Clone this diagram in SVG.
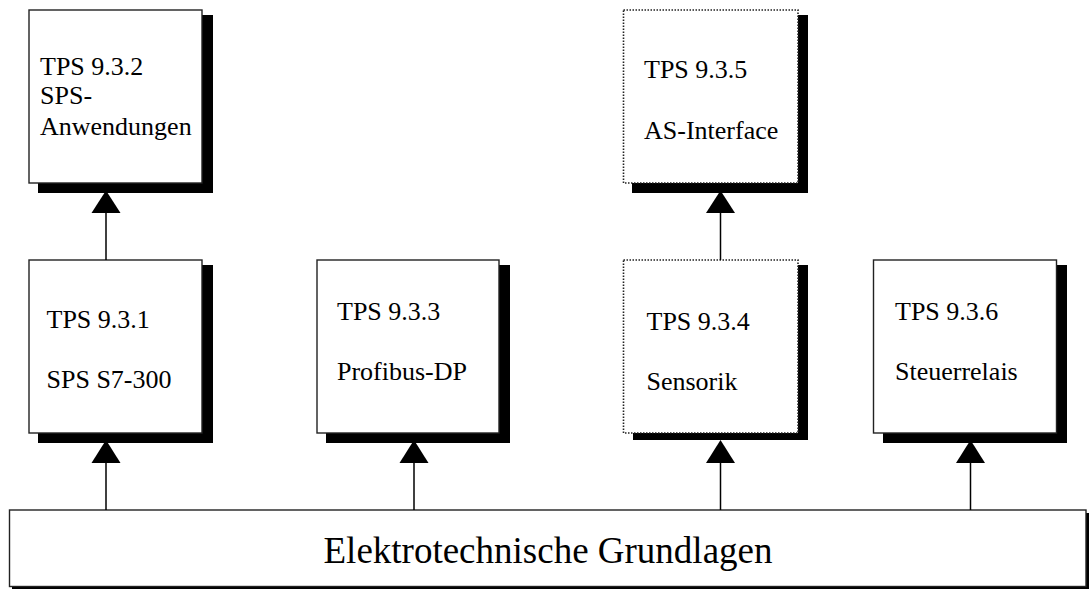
<svg xmlns="http://www.w3.org/2000/svg" width="1090" height="590" viewBox="0 0 1090 590">
<style>
.box{fill:#fff;stroke:#222;stroke-width:1.4}
.dot{fill:#fff;stroke:#222;stroke-width:1.6;stroke-dasharray:1.5 1.5}
.sh{fill:#000}
.t{font-family:"Liberation Serif","Times New Roman",serif;font-size:26px;fill:#000}
.big{font-size:37px}
.ln{stroke:#000;stroke-width:1.5;fill:none}
.ah{fill:#000}
</style>
<rect width="1090" height="590" fill="#fff"/>
<g id="n932">
<rect class="sh" x="38" y="15" width="175" height="178"/>
<rect class="box" x="29" y="10" width="173" height="173"/>
<text class="t" x="40" y="75">TPS 9.3.2</text>
<text class="t" x="40" y="104">SPS-</text>
<text class="t" x="40" y="135">Anwendungen</text>
</g>
<g id="n935">
<rect class="sh" x="632" y="15" width="176" height="178"/>
<rect class="dot" x="623.5" y="10" width="174.5" height="173"/>
<text class="t" x="644" y="78">TPS 9.3.5</text>
<text class="t" x="644" y="139">AS-Interface</text>
</g>
<g id="n931">
<rect class="sh" x="38" y="265" width="175" height="178"/>
<rect class="box" x="29" y="260" width="173" height="173"/>
<text class="t" x="46.5" y="328">TPS 9.3.1</text>
<text class="t" x="46.5" y="388">SPS S7-300</text>
</g>
<g id="n933">
<rect class="sh" x="326" y="265" width="184" height="178"/>
<rect class="box" x="317" y="260" width="182" height="173"/>
<text class="t" x="337" y="320">TPS 9.3.3</text>
<text class="t" x="337" y="380">Profibus-DP</text>
</g>
<g id="n934">
<rect class="sh" x="633" y="265" width="175" height="175"/>
<rect class="dot" x="623.5" y="260" width="174.5" height="173"/>
<text class="t" x="646.5" y="330">TPS 9.3.4</text>
<text class="t" x="646.5" y="390">Sensorik</text>
</g>
<g id="n936">
<rect class="sh" x="883" y="265" width="184" height="178"/>
<rect class="box" x="873.5" y="260" width="183" height="173"/>
<text class="t" x="895" y="320">TPS 9.3.6</text>
<text class="t" x="895" y="380">Steuerrelais</text>
</g>
<g id="base">
<rect class="sh" x="12" y="513" width="1077" height="76"/>
<rect class="box" x="9.5" y="510" width="1076.5" height="76.5"/>
<text class="t big" x="548" y="563" text-anchor="middle">Elektrotechnische Grundlagen</text>
</g>
<g id="connectors">
<line class="ln" x1="106" y1="260" x2="106" y2="212"/>
<polygon class="ah" points="106,190.5 120.5,213 91.5,213"/>
<line class="ln" x1="720.5" y1="260" x2="720.5" y2="212"/>
<polygon class="ah" points="720.5,190.5 735,213 706,213"/>
<line class="ln" x1="106" y1="510" x2="106" y2="462"/>
<polygon class="ah" points="106,440 120.5,463 91.5,463"/>
<line class="ln" x1="414" y1="510" x2="414" y2="462"/>
<polygon class="ah" points="414,440 428.5,463 399.5,463"/>
<line class="ln" x1="720.5" y1="510" x2="720.5" y2="462"/>
<polygon class="ah" points="720.5,440 735,463 706,463"/>
<line class="ln" x1="970.5" y1="510" x2="970.5" y2="462"/>
<polygon class="ah" points="970.5,440 985,463 956,463"/>
</g>
</svg>
